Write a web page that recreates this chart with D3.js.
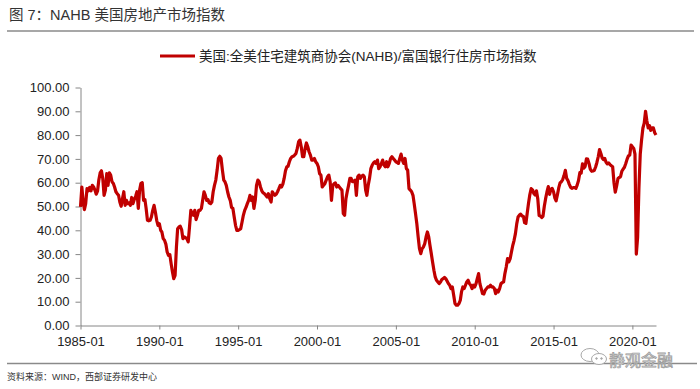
<!DOCTYPE html>
<html>
<head>
<meta charset="utf-8">
<script src="https://cdn.jsdelivr.net/npm/d3@7"></script>
<style>
body { margin: 0; background: #fff; }
svg text { font-family: "Liberation Sans", Arial, "Noto Sans CJK SC", sans-serif; }
</style>
</head>
<body>
<div id="chart"></div>
<script>
// texts
var titleText = "图 7：NAHB 美国房地产市场指数";
var seriesName = "美国:全美住宅建筑商协会(NAHB)/富国银行住房市场指数";
var sourceText = "资料来源：WIND，西部证券研发中心";
var markText = "静观金融";

// monthly index, first value is 1985-01
var startMonth = "1985-01";
var hmi = [
    49.8, 58.2, 52.6, 48.7, 51.2, 57.5, 56.6, 58.0, 56.6, 58.9, 58.2, 56.9, // 1985
    55.2, 56.6, 61.1, 64.1, 65.0, 61.8, 54.7, 56.9, 63.8, 58.9, 64.1, 63.2, // 1986
    60.4, 59.7, 58.2, 56.2, 55.4, 54.7, 51.9, 50.1, 53.3, 56.2, 50.5, 52.6, // 1987
    51.2, 51.5, 50.5, 53.8, 51.2, 53.0, 54.3, 56.2, 49.2, 56.9, 59.7, 60.0, // 1988
    52.6, 52.9, 49.2, 44.2, 44.0, 44.2, 45.6, 48.4, 50.5, 47.7, 44.2, 42.1, // 1989
    42.8, 40.0, 39.3, 36.5, 35.8, 34.2, 30.9, 29.5, 29.8, 26.0, 22.5, 19.7, // 1990
    21.1, 33.0, 40.7, 41.4, 41.7, 40.3, 36.5, 37.2, 36.9, 36.5, 35.1, 41.4, // 1991
    48.4, 47.0, 46.3, 48.4, 44.5, 46.3, 48.4, 48.4, 49.2, 52.6, 56.2, 54.7, // 1992
    52.6, 52.9, 51.5, 51.2, 51.9, 56.2, 58.9, 61.1, 65.3, 70.2, 71.1, 70.2, // 1993
    65.3, 61.1, 60.4, 58.9, 56.2, 54.0, 52.6, 49.6, 49.2, 45.6, 42.1, 40.0, // 1994
    40.0, 40.3, 40.7, 43.5, 46.3, 48.4, 49.6, 51.2, 52.6, 54.7, 52.6, 54.0, // 1995
    49.2, 52.6, 58.9, 61.1, 60.4, 58.2, 56.6, 55.7, 55.4, 54.7, 54.0, 55.4, // 1996
    53.3, 51.9, 56.2, 55.4, 54.7, 55.2, 56.2, 57.5, 58.9, 58.2, 59.4, 61.8, // 1997
    65.0, 66.7, 66.9, 68.8, 70.2, 70.9, 71.1, 71.6, 72.3, 74.4, 77.2, 77.9, // 1998
    75.1, 70.9, 70.9, 74.4, 76.7, 75.1, 73.0, 71.6, 69.5, 69.5, 70.2, 68.8, // 1999
    68.1, 66.7, 63.8, 63.2, 58.2, 58.9, 59.6, 61.1, 62.5, 63.2, 60.4, 52.6, // 2000
    58.9, 59.6, 59.9, 58.2, 58.9, 58.2, 57.5, 56.9, 47.0, 46.3, 53.3, 56.2, // 2001
    58.9, 61.8, 61.8, 60.4, 60.4, 61.1, 54.7, 62.5, 63.2, 61.8, 62.7, 63.2, // 2002
    62.5, 56.9, 54.7, 58.9, 61.8, 65.9, 67.3, 68.3, 68.8, 68.1, 69.5, 65.9, // 2003
    66.7, 68.1, 69.5, 67.4, 66.7, 68.8, 66.7, 68.1, 70.2, 70.9, 70.2, 69.5, // 2004
    68.8, 68.5, 68.1, 70.2, 72.0, 69.5, 68.1, 70.2, 65.9, 65.3, 57.5, 56.9, // 2005
    56.2, 54.7, 51.2, 47.0, 42.8, 37.2, 32.3, 30.2, 32.3, 33.0, 34.4, 37.2, // 2006
    39.3, 37.2, 33.7, 30.2, 26.7, 23.2, 20.4, 19.0, 18.3, 17.6, 18.3, 19.3, // 2007
    19.7, 20.2, 19.7, 18.7, 17.6, 16.9, 15.5, 16.2, 12.7, 9.2, 8.5, 8.5,    // 2008
    9.2, 10.6, 14.1, 16.2, 15.5, 16.9, 18.3, 19.0, 17.6, 16.9, 15.5, 16.9,  // 2009
    16.2, 17.6, 19.7, 21.8, 17.6, 15.5, 13.4, 13.2, 14.8, 15.5, 16.2, 16.2, // 2010
    16.9, 16.2, 16.2, 15.5, 13.4, 14.8, 14.1, 15.5, 17.6, 18.0, 18.3, 21.8, // 2011
    24.6, 28.1, 26.7, 28.1, 30.9, 33.7, 35.8, 38.6, 42.8, 45.6, 46.4, 46.8, // 2012
    46.0, 45.9, 43.2, 42.9, 47.2, 51.5, 55.0, 57.5, 57.0, 55.5, 54.8, 56.6, // 2013
    53.2, 46.2, 46.0, 45.4, 45.9, 50.1, 53.3, 56.1, 58.4, 55.1, 57.2, 57.6, // 2014
    56.2, 53.5, 52.4, 55.0, 57.8, 59.9, 60.4, 61.3, 63.0, 65.2, 61.8, 60.9, // 2015
    59.3, 58.1, 57.6, 57.9, 57.9, 57.6, 59.0, 60.9, 64.2, 64.0, 67.9, 66.1, // 2016
    66.8, 70.0, 69.9, 68.1, 65.7, 64.8, 64.9, 65.2, 66.6, 68.5, 70.9, 73.9, // 2017
    72.3, 70.4, 69.7, 70.2, 68.6, 67.9, 68.3, 67.6, 67.1, 66.7, 60.0, 56.0, // 2018
    58.6, 61.8, 62.2, 62.5, 64.8, 65.7, 66.5, 68.1, 69.9, 71.3, 71.6, 75.8, // 2019
    75.1, 74.4, 72.0, 30.0, 37.0, 58.0, 72.0, 78.0, 83.0, 85.0, 90.0, 86.0, // 2020
    83.0, 84.0, 82.0, 83.0, 83.0, 81.0, 80.0                                 // 2021
];

var yTicks = [0, 10, 20, 30, 40, 50, 60, 70, 80, 90, 100];
var xTickLabels = ["1985-01", "1990-01", "1995-01", "2000-01", "2005-01", "2010-01", "2015-01", "2020-01"];

var width = 700,
    height = 389;

var parseMonth = d3.timeParse("%Y-%m");
var start = parseMonth(startMonth);
var data = hmi.map(function(v, i) { return { date: d3.timeMonth.offset(start, i), value: v }; });

var svg = d3.select("#chart").append("svg")
    .attr("width", width)
    .attr("height", height);

var x = d3.scaleTime()
    .domain([data[0].date, data[data.length - 1].date])
    .range([80.5, 656]);

var y = d3.scaleLinear()
    .domain([0, 100])
    .range([325.5, 87.5]);

// title and rules
svg.append("text")
    .attr("x", 9)
    .attr("y", 19.5)
    .attr("font-size", "14.5px")
    .attr("fill", "#333")
    .text(titleText);

svg.append("line")
    .attr("x1", 7).attr("x2", 694)
    .attr("y1", 31).attr("y2", 31)
    .attr("stroke", "#8a8a8a")
    .attr("stroke-width", 1.5);

svg.append("line")
    .attr("x1", 7).attr("x2", 697)
    .attr("y1", 363.5).attr("y2", 363.5)
    .attr("stroke", "#8a8a8a")
    .attr("stroke-width", 1.5);

svg.append("text")
    .attr("x", 7)
    .attr("y", 380)
    .attr("font-size", "9px")
    .attr("fill", "#333")
    .text(sourceText);

// legend
svg.append("line")
    .attr("x1", 160).attr("x2", 195)
    .attr("y1", 56).attr("y2", 56)
    .attr("stroke", "#c00000")
    .attr("stroke-width", 3);

svg.append("text")
    .attr("x", 199)
    .attr("y", 60.5)
    .attr("font-size", "13.5px")
    .attr("fill", "#222")
    .text(seriesName);

// axes
var yAxis = d3.axisLeft(y)
    .tickValues(yTicks)
    .tickFormat(d3.format(".2f"))
    .tickSize(5)
    .tickSizeOuter(0)
    .tickPadding(6);

var xAxis = d3.axisBottom(x)
    .tickValues(xTickLabels.map(parseMonth))
    .tickFormat(d3.timeFormat("%Y-%m"))
    .tickSize(4)
    .tickSizeOuter(0)
    .tickPadding(7);

var gy = svg.append("g")
    .attr("transform", "translate(" + 80.5 + ",0)")
    .call(yAxis);

var gx = svg.append("g")
    .attr("transform", "translate(0," + 325.5 + ")")
    .call(xAxis);

[gx, gy].forEach(function(g) {
    g.selectAll("path, line").attr("stroke", "#868686").attr("stroke-width", 1);
    g.selectAll("text")
        .attr("font-family", "Liberation Sans, Arial, sans-serif")
        .attr("font-size", "13px")
        .attr("fill", "#222");
});

// series
var line = d3.line()
    .x(function(d) { return x(d.date); })
    .y(function(d) { return y(d.value); });

svg.append("path")
    .datum(data)
    .attr("fill", "none")
    .attr("stroke", "#c00000")
    .attr("stroke-width", 3.2)
    .attr("stroke-linejoin", "round")
    .attr("d", line);

// watermark
var wm = svg.append("g").attr("fill", "none").attr("stroke", "#a8a8a8").attr("stroke-width", 1);
wm.append("ellipse").attr("cx", 590).attr("cy", 355).attr("rx", 9).attr("ry", 6.5).attr("fill", "#fff");
wm.append("ellipse").attr("cx", 599).attr("cy", 359).attr("rx", 7.5).attr("ry", 5.5).attr("fill", "#fff");
wm.append("circle").attr("cx", 596.5).attr("cy", 358.5).attr("r", 0.8).attr("fill", "#a8a8a8");
wm.append("circle").attr("cx", 601.5).attr("cy", 358.5).attr("r", 0.8).attr("fill", "#a8a8a8");

svg.append("text")
    .attr("x", 609)
    .attr("y", 366)
    .attr("font-family", "Noto Sans CJK SC, sans-serif")
    .attr("font-size", "16px")
    .attr("fill", "#e6e6e6")
    .attr("stroke", "#9a9a9a")
    .attr("stroke-width", 0.7)
    .text(markText);
</script>
</body>
</html>
